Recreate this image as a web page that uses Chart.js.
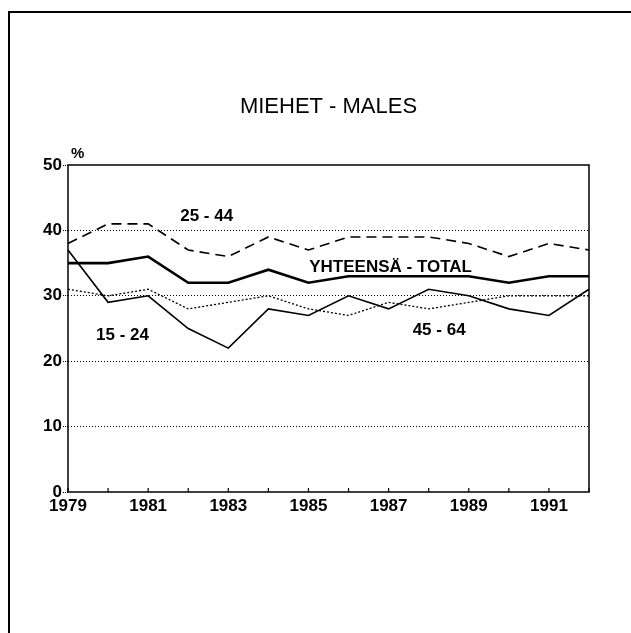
<!DOCTYPE html>
<html>
<head>
<meta charset="utf-8">
<script src="https://cdn.jsdelivr.net/npm/chart.js@4/dist/chart.umd.min.js"></script>
<style>
  html, body { margin: 0; padding: 0; background: #fff; }
  #chart { display: block; }
</style>
</head>
<body>
<canvas id="chart" width="631" height="633"></canvas>
<script>
// years on the x axis
const years = [1979, 1980, 1981, 1982, 1983, 1984, 1985, 1986, 1987, 1988, 1989, 1990, 1991, 1992];

// series values (%)
const total   = [35, 35, 36, 32, 32, 34, 32, 33, 33, 33, 33, 32, 33, 33];
const age1524 = [37, 29, 30, 25, 22, 28, 27, 30, 28, 31, 30, 28, 27, 31];
const age2544 = [38, 41, 41, 37, 36, 39, 37, 39, 39, 39, 38, 36, 38, 37];
const age4564 = [31, 30, 31, 28, 29, 30, 28, 27, 29, 28, 29, 30, 30, 30];

const yTicks = [0, 10, 20, 30, 40, 50];
const titleText = 'MIEHET - MALES';

// series labels: text, year index, value, alignment
const seriesLabels = [
    { text: '25 - 44', x: 2.8, y: 41.4, align: 'left' },
    { text: 'YHTEENSÄ - TOTAL', x: 8.05, y: 33.6, align: 'center' },
    { text: '15 - 24', x: 0.7, y: 23.2, align: 'left' },
    { text: '45 - 64', x: 8.6, y: 24.0, align: 'left' }
];

const FONT = '"Liberation Sans", Arial, sans-serif';

// frame, box, inward x ticks, title and labels
const decorPlugin = {
    id: 'decor',
    beforeDraw(chart) {
        const ctx = chart.ctx;
        ctx.save();
        ctx.fillStyle = '#fff';
        ctx.fillRect(0, 0, chart.width, chart.height);
        ctx.strokeStyle = '#000';
        ctx.lineWidth = 2;
        ctx.beginPath();
        ctx.moveTo(9, 633);
        ctx.lineTo(9, 12);
        ctx.lineTo(631, 12);
        ctx.stroke();
        ctx.restore();
    },
    afterDatasetsDraw(chart) {
        const ctx = chart.ctx;
        const area = chart.chartArea;
        const xs = chart.scales.x;
        const ys = chart.scales.y;
        ctx.save();

        // plot box
        ctx.strokeStyle = '#000';
        ctx.lineWidth = 1.5;
        ctx.strokeRect(area.left, area.top, area.right - area.left, area.bottom - area.top);

        // small tick marks pointing up from the x axis
        ctx.lineWidth = 1.2;
        years.forEach((yr, i) => {
            const px = xs.getPixelForValue(i);
            ctx.beginPath();
            ctx.moveTo(px, area.bottom);
            ctx.lineTo(px, area.bottom - 4);
            ctx.stroke();
        });

        // title
        ctx.fillStyle = '#000';
        ctx.font = '22px ' + FONT;
        ctx.textAlign = 'center';
        ctx.textBaseline = 'alphabetic';
        ctx.fillText(titleText, (area.left + area.right) / 2, 113);

        // % unit
        ctx.font = 'bold 15px ' + FONT;
        ctx.textAlign = 'left';
        ctx.fillText('%', area.left + 3, area.top - 7);

        // series labels
        ctx.font = 'bold 17px ' + FONT;
        seriesLabels.forEach(l => {
            ctx.textAlign = l.align;
            ctx.fillText(l.text, xs.getPixelForValue(l.x), ys.getPixelForValue(l.y));
        });
        ctx.restore();
    }
};

const lineSet = (label, data, width, dash) => ({
    label: label,
    data: data,
    borderColor: '#000',
    borderWidth: width,
    borderDash: dash,
    pointRadius: 0,
    tension: 0,
    fill: false
});

const chartData = {
    labels: years,
    datasets: [
        lineSet('Yhteensä - Total', total, 2.6, []),
        lineSet('15 - 24', age1524, 1.6, []),
        lineSet('25 - 44', age2544, 1.6, [10, 6]),
        lineSet('45 - 64', age4564, 1.3, [2, 2])
    ]
};

const chartConfig = {
    type: 'line',
    data: chartData,
    options: {
        responsive: false,
        animation: false,
        layout: {
            padding: { top: 165, right: 42, bottom: 0, left: 0 }
        },
        plugins: {
            legend: { display: false },
            title: { display: false },
            tooltip: { enabled: false }
        },
        scales: {
            x: {
                type: 'category',
                offset: false,
                grid: { display: false, drawTicks: false },
                border: { display: false },
                afterFit: (scale) => { scale.height = 141; },
                ticks: {
                    autoSkip: false,
                    maxRotation: 0,
                    padding: 4,
                    color: '#000',
                    font: { family: FONT, size: 17, weight: 'bold' },
                    callback: (val, idx) => (idx % 2 === 0 && idx < years.length - 1) ? String(years[idx]) : ''
                }
            },
            y: {
                min: 0,
                max: 50,
                afterFit: (scale) => { scale.width = 68; },
                afterBuildTicks: (scale) => { scale.ticks = yTicks.map(v => ({ value: v })); },
                border: { display: false, dash: [1, 2] },
                grid: {
                    color: (c) => (c.tick && (c.tick.value === 0 || c.tick.value === 50)) ? 'rgba(0,0,0,0)' : '#000',
                    tickColor: '#000',
                    lineWidth: 1,
                    tickBorderDash: [1, 1],
                    tickLength: 5
                },
                ticks: {
                    padding: 1,
                    color: '#000',
                    font: { family: FONT, size: 17, weight: 'bold' }
                }
            }
        }
    },
    plugins: [decorPlugin]
};

new Chart(document.getElementById('chart'), chartConfig);
</script>
</body>
</html>
